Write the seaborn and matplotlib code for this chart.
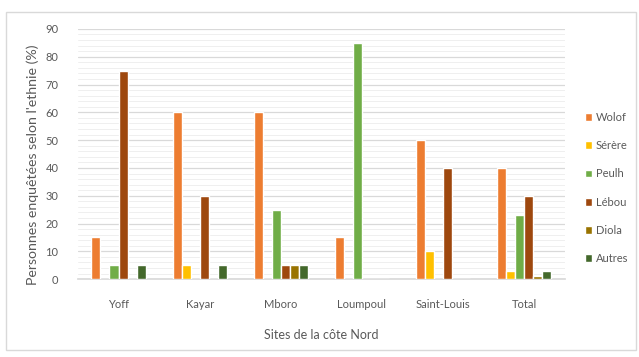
import matplotlib
matplotlib.use("Agg")
import matplotlib.pyplot as plt
from matplotlib.patches import Rectangle
from matplotlib.ticker import MultipleLocator
import seaborn as sns
import pandas as pd

sites = ["Yoff", "Kayar", "Mboro", "Loumpoul", "Saint-Louis", "Total"]
ethnies = ["Wolof", "Sérère", "Peulh", "Lébou", "Diola", "Autres"]
wolof = [15, 60, 60, 15, 50, 40]
serere = [0, 5, 0, 0, 10, 3]
peulh = [5, 0, 25, 85, 0, 23]
lebou = [75, 30, 5, 0, 40, 30]
diola = [0, 0, 5, 0, 0, 1]
autres = [5, 5, 5, 0, 0, 3]
colors = ["#ED7D31", "#FFC000", "#70AD47", "#9E480E", "#997300", "#43682B"]

series = [wolof, serere, peulh, lebou, diola, autres]
rows = []
for eth, vals in zip(ethnies, series):
    for site, v in zip(sites, vals):
        rows.append({"Site": site, "Ethnie": eth, "Valeur": v})
df = pd.DataFrame(rows)

sns.set_theme(style="white")
plt.rcParams["font.family"] = ["Lato", "DejaVu Sans"]
text_col = "#595959"

fig = plt.figure(figsize=(6.39, 3.57), dpi=100)
ax = fig.add_axes([0.122, 0.218, 0.762, 0.701])

sns.barplot(data=df, x="Site", y="Valeur", hue="Ethnie", order=sites,
            hue_order=ethnies, palette=colors, width=0.67, gap=0,
            saturation=1, errorbar=None, ax=ax, zorder=3)

ax.set_ylim(0, 90)
ax.yaxis.set_major_locator(MultipleLocator(10))
ax.yaxis.set_minor_locator(MultipleLocator(2))
ax.grid(axis="y", which="major", color="#D9D9D9", linewidth=0.9, zorder=0)
ax.grid(axis="y", which="minor", color="#EFEFEF", linewidth=0.7, zorder=0)
ax.set_axisbelow(True)
for s in ["top", "right", "left"]:
    ax.spines[s].set_visible(False)
ax.spines["bottom"].set_color("#D9D9D9")
ax.tick_params(axis="both", length=0, labelsize=8, colors=text_col)
ax.tick_params(axis="y", pad=14)
ax.tick_params(axis="x", pad=14)
ax.set_xlabel("Sites de la côte Nord", fontsize=9, color=text_col, labelpad=14)
ax.set_ylabel("Personnes enquêtées selon l'ethnie (%)", fontsize=10.2,
              color=text_col)
ax.yaxis.set_label_coords(-0.081, 0.456)

leg = ax.legend(loc="center left", bbox_to_anchor=(1.02, 0.364), frameon=False,
                fontsize=8, handlelength=0.7, handleheight=0.7,
                labelspacing=1.55, handletextpad=0.3)
for t in leg.get_texts():
    t.set_color(text_col)

fig.patches.append(Rectangle((6 / 639, 1 - 350 / 357), 630 / 639, 338 / 357,
                             transform=fig.transFigure, fill=False,
                             edgecolor="#D9D9D9", linewidth=1.0))

fig.savefig("out.png", dpi=100)
